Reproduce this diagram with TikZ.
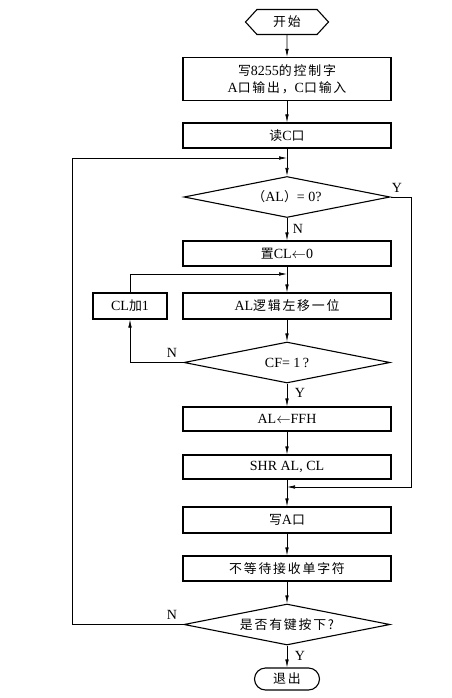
\documentclass[tikz,border=0pt]{standalone}
\usepackage{fontspec}
\setmainfont{Liberation Serif}
\newfontfamily\cjk[Scale=0.92,LetterSpace=14]{Noto Sans CJK SC}
\usetikzlibrary{shapes.geometric,shapes.symbols,arrows.meta}
\newcommand{\zh}[1]{{\cjk #1}}

\begin{document}
\begin{tikzpicture}[x=1pt,y=-1pt,font=\fontsize{14}{17}\selectfont,
    box/.style={draw,line width=1.1pt,minimum width=208pt,minimum height=25pt,inner sep=1pt},
    test/.style={draw,diamond,aspect=5,line width=1.1pt,minimum width=206pt,minimum height=41pt,inner sep=0pt},
    flow/.style={line width=0.6pt,-{Latex[length=8pt,width=3.5pt]}},
    wire/.style={line width=0.6pt}]
	\useasboundingbox (0,0) rectangle (451,698);
	% start and end
	\node[draw,signal,signal to=west and east,signal pointer angle=95,line width=1.1pt,
	      minimum width=83pt,minimum height=25pt,inner sep=0pt] (start) at (287,22) {\zh{开始}};
	\node[draw,rounded corners=11pt,line width=1.1pt,minimum width=65pt,minimum height=22pt,
	      inner sep=0pt] (stop) at (287,679) {\zh{退出}};
	% boxes
	\node[box,minimum height=43pt,align=center] (init) at (287,79)
	     {\zh{写}8255\zh{的控制字}\\A\zh{口输出，}C\zh{口输入}};
	\node[box] (readc) at (287,135.5) {\zh{读}C\zh{口}};
	\node[test] (isz) at (287,197) {\zh{（}AL\zh{）}= 0?};
	\node[box] (setcl) at (287,253.5) {\zh{置}CL$\leftarrow$0};
	\node[box,minimum width=74pt,minimum height=26pt] (inccl) at (130,306) {CL\zh{加}1};
	\node[box,minimum height=26pt] (shift) at (287,306) {AL\zh{逻辑左移一位}};
	\node[test] (iscf) at (287,362.5) {CF= 1\,?};
	\node[box,minimum height=24pt] (ffh) at (287,419) {AL$\leftarrow$FFH};
	\node[box,minimum height=24pt] (shr) at (287,467) {SHR AL, CL};
	\node[box,minimum height=26pt] (wra) at (287,520) {\zh{写}A\zh{口}};
	\node[box] (recv) at (287,568.5) {\zh{不等待接收单字符}};
	\node[test] (iskey) at (287,624.5) {\zh{是否有键按下?}};
	% joins
	\coordinate (top) at (287,158);
	\coordinate (join) at (287,274);
	\coordinate (merge) at (287,487);
	% labels
	\node (ly1) at (397,188) {Y};
	\node (ln1) at (298,229) {N};
	\node (ln2) at (172,353) {N};
	\node (ly2) at (300,393) {Y};
	\node (ln3) at (172,615) {N};
	\node (ly3) at (300,656) {Y};
	% connectors
	\draw[flow] (start) -- (init);
	\draw[flow] (init) -- (readc);
	\draw[flow] (readc) -- (isz);
	\draw[flow] (isz) -- (setcl);
	\draw[flow] (setcl) -- (shift);
	\draw[flow] (shift) -- (iscf);
	\draw[flow] (iscf) -- (ffh);
	\draw[flow] (ffh) -- (shr);
	\draw[flow] (shr) -- (wra);
	\draw[flow] (wra) -- (recv);
	\draw[flow] (recv) -- (iskey);
	\draw[flow] (iskey) -- (stop);
	\draw[flow] (isz.east) -- (411,197) -- (411,487) -- (merge);
	\draw[flow] (iscf.west) -| (inccl.south);
	\draw[flow] (inccl.north) |- (join);
	\draw[flow] (iskey.west) -- (72,624.5) -- (72,158) -- (top);
\end{tikzpicture}
\end{document}
